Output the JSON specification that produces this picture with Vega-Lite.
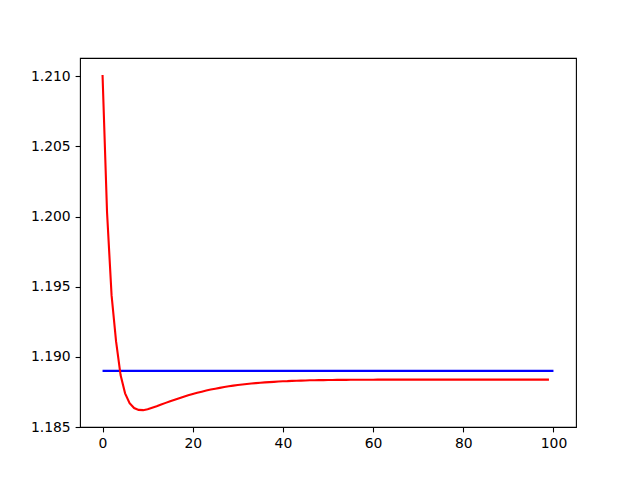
{
  "$schema": "https://vega.github.io/schema/vega-lite/v6.json",
  "width": 496,
  "height": 369,
  "autosize": {"type": "none"},
  "padding": {"left": 80, "top": 58, "right": 64, "bottom": 53},
  "background": "white",
  "config": {
    "view": {"stroke": "black", "strokeWidth": 1.1},
    "axis": {
      "grid": false,
      "domain": false,
      "tickColor": "black",
      "tickSize": 4.9,
      "tickWidth": 1.1,
      "labelFont": "DejaVu Sans",
      "labelFontSize": 13.9,
      "labelColor": "black",
      "labelPadding": 4.9,
      "title": null
    }
  },
  "datasets": {
    "red": [
      {"x": 0, "y": 1.2101}, {"x": 1, "y": 1.2003}, {"x": 2, "y": 1.1944}, {"x": 3, "y": 1.1911},
      {"x": 4, "y": 1.1887}, {"x": 5, "y": 1.1874}, {"x": 6, "y": 1.1867}, {"x": 7, "y": 1.18635},
      {"x": 8, "y": 1.18622}, {"x": 9, "y": 1.1862}, {"x": 10, "y": 1.18626}, {"x": 11, "y": 1.18637},
      {"x": 12, "y": 1.18648}, {"x": 13, "y": 1.1866}, {"x": 14, "y": 1.18672}, {"x": 15, "y": 1.18683},
      {"x": 16, "y": 1.18694}, {"x": 17, "y": 1.18705}, {"x": 18, "y": 1.18716}, {"x": 19, "y": 1.18726},
      {"x": 20, "y": 1.18735}, {"x": 21, "y": 1.18744}, {"x": 22, "y": 1.18752}, {"x": 23, "y": 1.1876},
      {"x": 24, "y": 1.18767}, {"x": 25, "y": 1.18773}, {"x": 26, "y": 1.18779}, {"x": 27, "y": 1.18785},
      {"x": 28, "y": 1.1879}, {"x": 29, "y": 1.18795}, {"x": 30, "y": 1.18799}, {"x": 31, "y": 1.18803},
      {"x": 32, "y": 1.18807}, {"x": 33, "y": 1.1881}, {"x": 34, "y": 1.18813}, {"x": 35, "y": 1.18816},
      {"x": 36, "y": 1.18818}, {"x": 37, "y": 1.1882}, {"x": 38, "y": 1.18822}, {"x": 39, "y": 1.18824},
      {"x": 40, "y": 1.18826}, {"x": 41, "y": 1.18827}, {"x": 42, "y": 1.18829}, {"x": 43, "y": 1.1883},
      {"x": 44, "y": 1.18831}, {"x": 45, "y": 1.18832}, {"x": 46, "y": 1.18833}, {"x": 47, "y": 1.18833},
      {"x": 48, "y": 1.18834}, {"x": 49, "y": 1.18834}, {"x": 50, "y": 1.18835}, {"x": 51, "y": 1.18835},
      {"x": 52, "y": 1.18836}, {"x": 53, "y": 1.18836}, {"x": 54, "y": 1.18836}, {"x": 55, "y": 1.18837},
      {"x": 56, "y": 1.18837}, {"x": 57, "y": 1.18837}, {"x": 58, "y": 1.18837}, {"x": 59, "y": 1.18837},
      {"x": 60, "y": 1.18837}, {"x": 61, "y": 1.18838}, {"x": 62, "y": 1.18838}, {"x": 63, "y": 1.18838},
      {"x": 64, "y": 1.18838}, {"x": 65, "y": 1.18838}, {"x": 66, "y": 1.18838}, {"x": 67, "y": 1.18838},
      {"x": 68, "y": 1.18838}, {"x": 69, "y": 1.18838}, {"x": 70, "y": 1.18838}, {"x": 71, "y": 1.18838},
      {"x": 72, "y": 1.18838}, {"x": 73, "y": 1.18838}, {"x": 74, "y": 1.18838}, {"x": 75, "y": 1.18838},
      {"x": 76, "y": 1.18838}, {"x": 77, "y": 1.18838}, {"x": 78, "y": 1.18838}, {"x": 79, "y": 1.18838},
      {"x": 80, "y": 1.18838}, {"x": 81, "y": 1.18838}, {"x": 82, "y": 1.18838}, {"x": 83, "y": 1.18838},
      {"x": 84, "y": 1.18838}, {"x": 85, "y": 1.18838}, {"x": 86, "y": 1.18838}, {"x": 87, "y": 1.18838},
      {"x": 88, "y": 1.18838}, {"x": 89, "y": 1.18838}, {"x": 90, "y": 1.18838}, {"x": 91, "y": 1.18838},
      {"x": 92, "y": 1.18838}, {"x": 93, "y": 1.18838}, {"x": 94, "y": 1.18838}, {"x": 95, "y": 1.18838},
      {"x": 96, "y": 1.18838}, {"x": 97, "y": 1.18838}, {"x": 98, "y": 1.18838}, {"x": 99, "y": 1.18838}
    ],
    "blue": [
      {"x": 0, "y": 1.189},
      {"x": 100, "y": 1.189}
    ]
  },
  "layer": [
    {
      "data": {"name": "blue"},
      "mark": {"type": "line", "color": "blue", "strokeWidth": 2.1, "clip": true},
      "encoding": {
        "x": {"field": "x", "type": "quantitative", "scale": {"domain": [-5, 105], "nice": false, "zero": false},
              "axis": {"values": [0, 20, 40, 60, 80, 100], "format": "d"}},
        "y": {"field": "y", "type": "quantitative", "scale": {"domain": [1.185, 1.21131], "nice": false, "zero": false},
              "axis": {"values": [1.185, 1.19, 1.195, 1.2, 1.205, 1.21], "format": ".3f"}}
      }
    },
    {
      "data": {"name": "red"},
      "mark": {"type": "line", "color": "red", "strokeWidth": 2.1, "clip": true},
      "encoding": {
        "x": {"field": "x", "type": "quantitative"},
        "y": {"field": "y", "type": "quantitative"}
      }
    }
  ]
}
